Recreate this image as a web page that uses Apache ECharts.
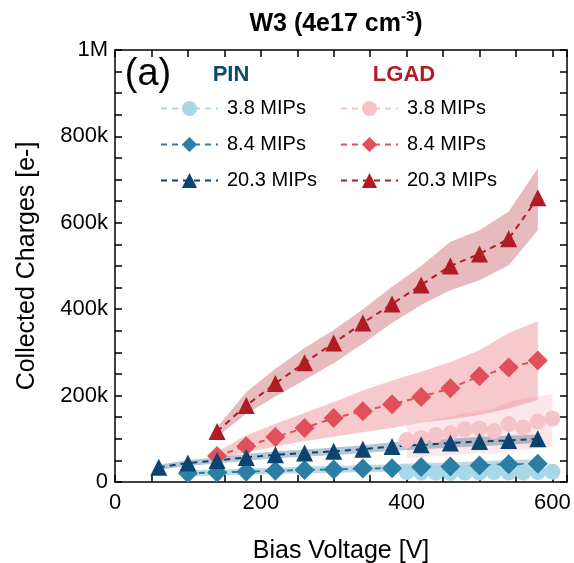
<!DOCTYPE html>
<html>
<head>
<meta charset="utf-8">
<script src="https://cdn.jsdelivr.net/npm/echarts@6/dist/echarts.min.js"></script>
<style>html,body{margin:0;padding:0;background:#fff}#c{width:574px;height:563px}</style>
</head>
<body>
<div id="c"></div>
<script>
// ---- data (charges in thousands of e-) ----
const pin38X = [400,420,440,460,480,500,520,540,560,580,600];
const pin38 = [23,22,22,21,22,22,23,22,22,23,24];
const pin38Lo = [16,15,15,14,15,15,16,15,15,16,17];
const pin38Hi = [30,29,29,28,29,29,30,29,29,30,31];

const pin84X = [100,140,180,220,260,300,340,380,420,460,500,540,580];
const pin84 = [20,22,24,26,28,29,31,32,35,36,38,41,42];
const pin84Lo = [13,15,17,19,20,21,23,24,26,27,29,31,32];
const pin84Hi = [27,29,31,33,36,37,39,41,44,45,48,51,52];

const pin203X = [60,100,140,180,220,260,300,340,380,420,460,500,540,580];
const pin203 = [34,44,50,57,63,67,71,76,82,86,90,94,96,100];
const pin203Lo = [28,37,43,49,55,59,62,67,72,76,80,83,86,90];
const pin203Hi = [40,51,57,65,71,75,80,85,92,96,100,105,107,110];

const lg38X = [400,420,440,460,480,500,520,540,560,580,600];
const lg38 = [97,102,109,113,122,124,118,134,126,140,147];
const lg38Lo = [55,57,60,62,65,68,64,72,74,78,82];
const lg38Hi = [132,138,145,152,160,165,170,185,192,198,204];

const lg84X = [140,180,220,260,300,340,380,420,460,500,540,580];
const lg84 = [60,83,104,125,148,164,180,197,217,245,265,281];
const lg84Lo = [52,68,82,95,105,115,125,138,145,155,170,190];
const lg84Hi = [70,108,135,160,185,212,235,255,278,305,345,372];

const lg203X = [140,180,220,260,300,340,380,420,460,500,540,580];
const lg203 = [117,177,228,276,322,368,412,456,500,528,563,658];
const lg203Lo = [105,158,198,236,275,320,368,410,444,467,502,583];
const lg203Hi = [127,208,262,310,352,400,452,500,556,583,626,726];

const xTicks = [0,200,400,600];
const yTickLabels = {0:'0',200000:'200k',400000:'400k',600000:'600k',800000:'800k',1000000:'1M'};

// ---- styles ----
const FONT = 'Liberation Sans, Arial, Helvetica, sans-serif';
const C = {
  pin38:'#a8d8e8', pin84:'#2b7fa4', pin203:'#0b4470',
  lg38:'#f5c4c8', lg84:'#e0505a', lg203:'#b01c24'
};
function rgba(hex,a){const n=parseInt(hex.slice(1),16);return 'rgba('+(n>>16)+','+((n>>8)&255)+','+(n&255)+','+a+')';}
const K = 1000;

function band(id, xs, lo, hi, color, alpha){
  return {
    type:'custom', name:id, silent:true, z:1, animation:false,
    data: xs.map((x,i)=>[x, lo[i]*K, hi[i]*K]),
    encode:{x:0, y:[1,2]},
    renderItem: function(params, api){
      if (params.dataIndexInside !== 0) return null;
      const n = params.dataInsideLength;
      const top = [], bot = [];
      for (let i=0;i<n;i++){
        const xv = api.value(0,i);
        top.push(api.coord([xv, api.value(2,i)]));
        bot.push(api.coord([xv, api.value(1,i)]));
      }
      return {type:'polygon', shape:{points: top.concat(bot.reverse())},
              style:{fill:rgba(color,alpha), stroke:null}};
    }
  };
}
function line(name, xs, ys, color, symbol, size){
  return {type:'line', name:name, data:xs.map((x,i)=>[x,ys[i]*K]),
    symbol:symbol, symbolSize:size, itemStyle:{color:color, opacity:1},
    lineStyle:{color:color, width:2, type:[6,5]}, z:3, animation:false};
}

const series = [
  band('blg38', lg38X, lg38Lo, lg38Hi, C.lg38, 0.4),
  band('blg84', lg84X, lg84Lo, lg84Hi, C.lg84, 0.3),
  band('blg203', lg203X, lg203Lo, lg203Hi, C.lg203, 0.3),
  band('bpin38', pin38X, pin38Lo, pin38Hi, C.pin38, 0.4),
  band('bpin84', pin84X, pin84Lo, pin84Hi, C.pin84, 0.3),
  band('bpin203', pin203X, pin203Lo, pin203Hi, C.pin203, 0.3),
  line('LGAD 3.8 MIPs', lg38X, lg38, C.lg38, 'circle', 16),
  line('LGAD 8.4 MIPs', lg84X, lg84, C.lg84, 'diamond', 20),
  line('LGAD 20.3 MIPs', lg203X, lg203, C.lg203, 'triangle', 17),
  line('PIN 3.8 MIPs', pin38X, pin38, C.pin38, 'circle', 16),
  line('PIN 8.4 MIPs', pin84X, pin84, C.pin84, 'diamond', 20),
  line('PIN 20.3 MIPs', pin203X, pin203, C.pin203, 'triangle', 17)
];

const axisLine = {show:true, onZero:false, lineStyle:{color:'#000', width:1.5}};
const tick = {show:true, inside:true, length:7, lineStyle:{color:'#000', width:1.5}};
const labelStyle = {color:'#000', fontSize:22, fontFamily:FONT};

const legendCommon = {
  orient:'vertical', itemWidth:57, itemHeight:19, itemGap:16, padding:0,
  textStyle:{color:'#000', fontSize:20, fontFamily:FONT, padding:[0,0,0,4]},
  formatter: n => n.replace(/^(PIN|LGAD) /,''),
  selectedMode:false
};

const option = {
  backgroundColor:'#fff',
  animation:false,
  grid:{left:115, right:7, top:50, bottom:81, containLabel:false, outerBoundsMode:'none'},
  xAxis:[
    {type:'value', min:0, max:620, interval:50, position:'bottom',
     name:'Bias Voltage [V]', nameLocation:'middle', nameGap:57,
     nameTextStyle:{color:'#000', fontSize:25, fontFamily:FONT},
     axisLine:axisLine, axisTick:tick, splitLine:{show:false},
     axisLabel:Object.assign({margin:10, formatter:v=>xTicks.indexOf(v)>=0?String(v):''}, labelStyle)},
    {type:'value', min:0, max:620, interval:50, position:'top',
     axisLine:axisLine, axisTick:tick, splitLine:{show:false}, axisLabel:{show:false}}
  ],
  yAxis:[
    {type:'value', min:0, max:1000000, interval:50000, position:'left',
     name:'Collected Charges [e-]', nameLocation:'middle', nameGap:75,
     nameTextStyle:{color:'#000', fontSize:25, fontFamily:FONT},
     axisLine:axisLine, axisTick:tick, splitLine:{show:false},
     axisLabel:Object.assign({margin:7, formatter:v=>(v in yTickLabels)?yTickLabels[v]:''}, labelStyle)},
    {type:'value', min:0, max:1000000, interval:50000, position:'right',
     axisLine:axisLine, axisTick:tick, splitLine:{show:false}, axisLabel:{show:false}}
  ],
  legend:[
    Object.assign({left:160, top:98.5, data:['PIN 3.8 MIPs','PIN 8.4 MIPs','PIN 20.3 MIPs']}, legendCommon),
    Object.assign({left:340, top:98.5, data:['LGAD 3.8 MIPs','LGAD 8.4 MIPs','LGAD 20.3 MIPs']}, legendCommon)
  ],
  graphic:[
    {type:'text', x:336, y:24, z:10, style:{
      text:'{a|W3 (4e17 cm}{s|-3}{a|)}', textAlign:'center', textVerticalAlign:'middle',
      rich:{a:{fontSize:25, fontWeight:'bold', fontFamily:FONT, fill:'#000', lineHeight:30},
            s:{fontSize:15, fontWeight:'bold', fontFamily:FONT, fill:'#000', verticalAlign:'top', lineHeight:30, padding:[0,0,14,0]}}
    }},
    {type:'text', x:148, y:75, z:10, style:{text:'(a)', fontSize:38, fontFamily:FONT, fill:'#000', textAlign:'center', textVerticalAlign:'middle'}},
    {type:'text', x:231, y:75, z:10, style:{text:'PIN', fontSize:22, fontWeight:'bold', fontFamily:FONT, fill:'#0d4a70', textAlign:'center', textVerticalAlign:'middle'}},
    {type:'text', x:404, y:75, z:10, style:{text:'LGAD', fontSize:22, fontWeight:'bold', fontFamily:FONT, fill:'#b01c24', textAlign:'center', textVerticalAlign:'middle'}}
  ],
  series: series
};
const chart = echarts.init(document.getElementById('c'), null, {renderer:'canvas'});
chart.setOption(option);
</script>
</body>
</html>
